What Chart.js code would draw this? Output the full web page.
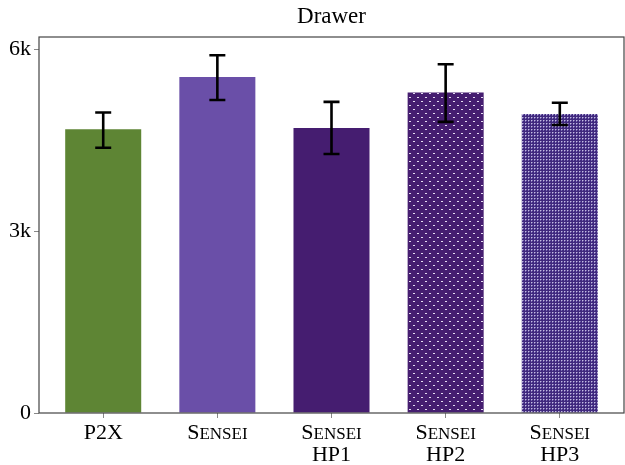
<!DOCTYPE html>
<html>
<head>
<meta charset="utf-8">
<script src="https://cdn.jsdelivr.net/npm/chart.js@4"></script>
<style>
  html, body { margin: 0; padding: 0; background: #fff; }
  #wrap { width: 625px; height: 465px; }
</style>
</head>
<body>
<div id="wrap"><canvas id="drawerChart" width="625" height="465"></canvas></div>
<script>
// du lieu bieu do
var titleText = 'Drawer';
var categories = [['P2X'], ['Sensei'], ['Sensei', 'HP1'], ['Sensei', 'HP2'], ['Sensei', 'HP3']];
var values = [4680, 5540, 4700, 5285, 4930];
var errLow = [4375, 5160, 4270, 4800, 4750];
var errHigh = [4955, 5900, 5130, 5750, 5115];
var yTicks = [0, 3000, 6000];
var yMax = 6200;

var SERIF = '"Liberation Serif", "DejaVu Serif", serif';

// tao pattern cho cot HP2 (cham trang) va HP3 (caro)
function dotPattern() {
    var c = document.createElement('canvas');
    c.width = 8; c.height = 8;
    var g = c.getContext('2d');
    g.fillStyle = '#451d70';
    g.fillRect(0, 0, 8, 8);
    g.fillStyle = '#e6dcf2';
    g.fillRect(1, 1, 2, 1);
    g.fillRect(5, 5, 2, 1);
    return g.createPattern(c, 'repeat');
}

function checkPattern() {
    var c = document.createElement('canvas');
    c.width = 3; c.height = 3;
    var g = c.getContext('2d');
    g.fillStyle = '#40297e';
    g.fillRect(0, 0, 3, 3);
    g.fillStyle = '#c4bbe0';
    g.fillRect(0, 0, 1, 1);
    g.fillStyle = '#7a6bb2';
    g.fillRect(1, 0, 1, 1);
    g.fillRect(0, 1, 1, 1);
    return g.createPattern(c, 'repeat');
}

var barColors = ['#5e8534', '#6a4fa8', '#451d70', dotPattern(), checkPattern()];

// ve khung, tieu de, nhan truc x va thanh sai so
var extrasPlugin = {
    id: 'extras',
    afterDatasetsDraw: function(chart) {
        var ctx = chart.ctx;
        var xs = chart.scales.x, ys = chart.scales.y;
        ctx.save();
        ctx.strokeStyle = '#000';
        ctx.lineWidth = 2.6;
        for (var i = 0; i < values.length; i++) {
            var x = xs.getPixelForValue(i);
            var yl = ys.getPixelForValue(errLow[i]);
            var yh = ys.getPixelForValue(errHigh[i]);
            ctx.beginPath();
            ctx.moveTo(x, yl); ctx.lineTo(x, yh);
            ctx.moveTo(x - 8, yl); ctx.lineTo(x + 8, yl);
            ctx.moveTo(x - 8, yh); ctx.lineTo(x + 8, yh);
            ctx.stroke();
        }
        ctx.restore();
    },
    afterDraw: function(chart) {
        var ctx = chart.ctx;
        var a = chart.chartArea;
        var xs = chart.scales.x;
        ctx.save();
        // khung
        ctx.strokeStyle = '#444';
        ctx.lineWidth = 1.2;
        ctx.strokeRect(a.left, a.top, a.right - a.left, a.bottom - a.top);
        // tieu de
        ctx.fillStyle = '#000';
        ctx.textAlign = 'center';
        ctx.textBaseline = 'alphabetic';
        ctx.font = '23px ' + SERIF;
        ctx.fillText(titleText, (a.left + a.right) / 2, 23);
        // nhan truc x (chu in hoa nho cho "Sensei")
        for (var i = 0; i < categories.length; i++) {
            var x = xs.getPixelForValue(i);
            for (var j = 0; j < categories[i].length; j++) {
                drawLabel(ctx, categories[i][j], x, a.bottom + 26 + j * 22);
            }
        }
        ctx.restore();
    }
};

function drawLabel(ctx, text, cx, y) {
    var big = '22px ' + SERIF, small = '17px ' + SERIF;
    var parts = [];
    if (text === 'Sensei') {
        parts.push([text[0], big]);
        parts.push([text.slice(1).toUpperCase(), small]);
    } else {
        parts.push([text, big]);
    }
    var total = 0;
    parts.forEach(function(p) { ctx.font = p[1]; p.push(ctx.measureText(p[0]).width); total += p[2]; });
    var x = cx - total / 2;
    ctx.textAlign = 'left';
    parts.forEach(function(p) { ctx.font = p[1]; ctx.fillText(p[0], x, y); x += p[2]; });
}

var ctx = document.getElementById('drawerChart').getContext('2d');
new Chart(ctx, {
    type: 'bar',
    data: {
        datasets: [{
            data: values.map(function(v, i) { return { x: i, y: v }; }),
            backgroundColor: barColors,
            borderWidth: 0,
            barPercentage: 0.666,
            categoryPercentage: 1
        }]
    },
    options: {
        responsive: false,
        animation: false,
        layout: { padding: { top: 37, right: 1, left: 0, bottom: 0 } },
        plugins: {
            legend: { display: false },
            title: { display: false },
            tooltip: { enabled: false }
        },
        scales: {
            x: {
                type: 'linear',
                offset: false,
                min: -0.5625,
                max: 4.5625,
                afterBuildTicks: function(scale) {
                    scale.ticks = categories.map(function(c, i) { return { value: i }; });
                },
                afterFit: function(scale) { scale.height = 52; },
                border: { display: false },
                grid: { offset: false, drawOnChartArea: false, drawTicks: true, tickLength: 5, color: '#888', lineWidth: 1 },
                ticks: { callback: function() { return ''; } }
            },
            y: {
                min: 0,
                max: yMax,
                afterBuildTicks: function(scale) {
                    scale.ticks = yTicks.map(function(v) { return { value: v }; });
                },
                afterFit: function(scale) { scale.width = 39; },
                border: { display: false },
                grid: { drawOnChartArea: false, drawTicks: true, tickLength: 5, color: '#888', lineWidth: 1 },
                ticks: {
                    color: '#000',
                    padding: 3,
                    font: { family: SERIF, size: 22 },
                    callback: function(v) { return v === 0 ? '0' : (v / 1000) + 'k'; }
                }
            }
        }
    },
    plugins: [extrasPlugin]
});
</script>
</body>
</html>
